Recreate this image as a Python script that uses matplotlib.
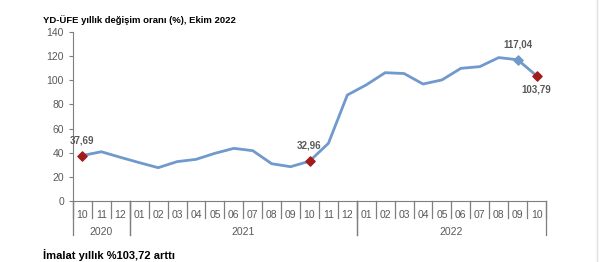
import matplotlib.pyplot as plt
from matplotlib.lines import Line2D

plt.rcParams['font.family'] = ['Liberation Sans', 'DejaVu Sans']

months = ['10', '11', '12', '01', '02', '03', '04', '05', '06', '07', '08', '09',
          '10', '11', '12', '01', '02', '03', '04', '05', '06', '07', '08', '09', '10']
years = ['2020', '2021', '2022']
year_spans = [(0, 3), (3, 15), (15, 25)]
values = [37.69, 40.8, 36.2, 31.8, 27.6, 32.6, 34.5, 39.5, 43.6, 41.7, 30.9, 28.4,
          32.96, 47.8, 87.8, 96.2, 106.3, 105.6, 96.9, 100.3, 109.9, 111.3, 118.8, 117.04, 103.79]
red_points = [0, 12, 24]
blue_points = [23]

line_color = '#7099cc'
red = '#a01c1c'
grey = '#7f7f7f'
text_grey = '#595959'

fig = plt.figure(figsize=(6, 2.62), dpi=100)
ax = fig.add_axes([73 / 600, 1 - 201 / 262, 473 / 600, 169 / 262])

x = list(range(len(values)))
ax.plot(x, values, color=line_color, lw=2.0, zorder=2)
ax.scatter([x[i] for i in red_points], [values[i] for i in red_points],
           marker='D', s=22, color=red, zorder=3)
ax.scatter([x[i] for i in blue_points], [values[i] for i in blue_points],
           marker='D', s=22, color=line_color, zorder=3)

def fmt(v):
    return f'{v:.2f}'.replace('.', ',')

for i in [0, 12, 23]:
    ax.annotate(fmt(values[i]), (x[i], values[i]), xytext=(0, 7.5), textcoords='offset points',
                ha='center', va='bottom', fontsize=7, color=text_grey, fontweight='bold')
ax.annotate(fmt(values[24]), (x[24], values[24]), xytext=(0, -6), textcoords='offset points',
            ha='center', va='top', fontsize=7, color=text_grey, fontweight='bold')

ax.set_xlim(-0.5, len(values) - 0.5)
ax.set_ylim(0, 140)
ax.set_yticks(range(0, 141, 20))
ax.tick_params(axis='y', colors=grey, labelcolor=text_grey, labelsize=7.5, length=3, direction='out')
ax.set_xticks([])
for s in ['top', 'right']:
    ax.spines[s].set_visible(False)
ax.spines['left'].set_color(grey)
ax.spines['bottom'].set_color(grey)

# category axis: months and years
trans = ax.get_xaxis_transform()
for i, m in enumerate(months):
    ax.text(i, -0.055, m, transform=trans, ha='center', va='top', fontsize=7.5, color=text_grey)
for i in range(len(months) + 1):
    ax.add_line(Line2D([i - 0.5, i - 0.5], [0, -0.1], transform=trans, color=grey, lw=0.9,
                       clip_on=False))
for (a, b), y in zip(year_spans, years):
    ax.text((a + b - 1) / 2, -0.155, y, transform=trans, ha='center', va='top', fontsize=7.5,
            color=text_grey)
    for edge in (a, b):
        ax.add_line(Line2D([edge - 0.5, edge - 0.5], [0, -0.2], transform=trans, color=grey,
                           lw=0.9, clip_on=False))

fig.text(43 / 600, 1 - 20 / 262, 'YD-ÜFE yıllık değişim oranı (%), Ekim 2022',
         fontsize=6.8, fontweight='bold', ha='left', va='center')
fig.text(43 / 600, 1 / 262, 'İmalat yıllık %103,72 arttı',
         fontsize=8, fontweight='bold', ha='left', va='bottom')
fig.add_artist(Line2D([597 / 600, 597 / 600], [0, 1], color='#e0e0e0', lw=1))

fig.savefig('out.png', dpi=100)
